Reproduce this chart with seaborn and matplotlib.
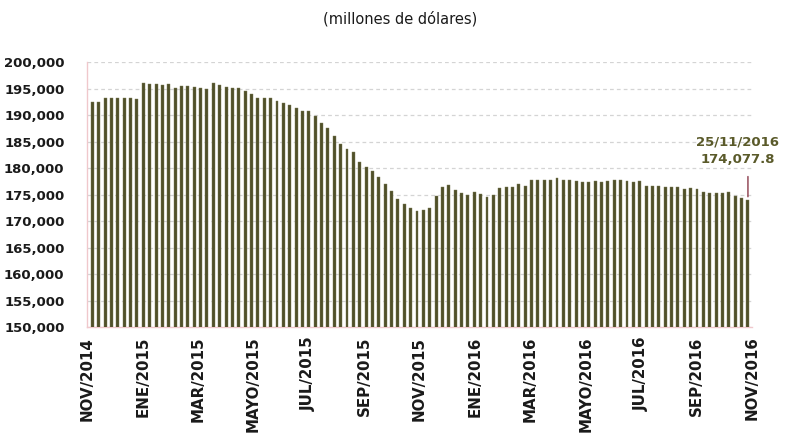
import numpy as np
import pandas as pd
import matplotlib
matplotlib.use("Agg")
import matplotlib.pyplot as plt
import seaborn as sns

# ---- data (weekly reserves, millions of USD) ----
valores = [
    192450, 192450, 193330, 193200, 193200, 193330, 193330, 193000,
    196040, 195900, 195900, 195800, 195900, 195100, 195600, 195600,
    195400, 195200, 194900, 196000, 195800, 195400, 195100, 195100,
    194500, 194000, 193300, 193300, 193300, 192600, 192300, 191900,
    191400, 190800, 190800, 189900, 188500, 187500, 186000, 184600,
    183600, 183000, 181100, 180300, 179400, 178300, 177000, 175600,
    174200, 173300, 172500, 172000, 172100, 172500, 174800, 176500,
    176900, 175900, 175300, 174900, 175500, 175200, 174600, 174900,
    176200, 176400, 176400, 177000, 176700, 177700, 177800, 177800,
    177800, 178100, 177800, 177800, 177500, 177300, 177400, 177500,
    177400, 177500, 177700, 177700, 177500, 177300, 177500, 176700,
    176700, 176700, 176500, 176500, 176500, 176000, 176200, 176000,
    175500, 175300, 175300, 175300, 175500, 174800, 174300, 174077.8,
]
fechas = pd.date_range(end="2016-11-25", periods=len(valores), freq="7D")
etiquetas_x = ["NOV/2014", "ENE/2015", "MAR/2015", "MAYO/2015", "JUL/2015",
               "SEP/2015", "NOV/2015", "ENE/2016", "MAR/2016", "MAYO/2016",
               "JUL/2016", "SEP/2016", "NOV/2016"]
ticks_y = [150000, 155000, 160000, 165000, 170000, 175000, 180000,
           185000, 190000, 195000, 200000]
titulo = "(millones de dólares)"
anotacion = "25/11/2016\n174,077.8"

df = pd.DataFrame({"semana": np.arange(len(valores)), "valor": valores,
                   "fecha": fechas})

sns.set_theme(style="white")
plt.rcParams["font.family"] = ["DejaVu Sans"]

fig = plt.figure(figsize=(7.93, 4.40), dpi=100)
ax = fig.add_axes([0.1093, 0.2568, 0.8387, 0.6016])

bar_color = "#505029"
sns.barplot(data=df, x="semana", y="valor", color=bar_color, width=0.46,
            saturation=1, edgecolor="#7a7a55", linewidth=0.3, ax=ax, zorder=3)

ax.set_ylim(150000, 200000)
ax.set_xlim(-0.9, len(valores) - 0.5)
ax.set_yticks(ticks_y)
ax.set_yticklabels([f"{v:,.0f}" for v in ticks_y], fontsize=9.5,
                   fontweight="bold", color="#1a1a1a")

pos = np.linspace(-0.8, 103.6, len(etiquetas_x))
ax.set_xticks(pos)
ax.set_xticklabels(etiquetas_x, rotation=90, fontsize=10.8,
                   fontweight="bold", color="#1a1a1a", va="top", ha="center")
ax.tick_params(axis="both", length=0)
ax.tick_params(axis="y", pad=16)
ax.tick_params(axis="x", pad=7)
ax.set_xlabel("")
ax.set_ylabel("")

ax.yaxis.grid(True, linestyle=(0, (3, 2.5)), color="#d4d4d4", linewidth=0.9,
              zorder=0)
ax.set_axisbelow(True)
for s in ["top", "right"]:
    ax.spines[s].set_visible(False)
for s in ["left", "bottom"]:
    ax.spines[s].set_color("#f0c8cc")
    ax.spines[s].set_linewidth(1.0)

fig.text(0.505, 0.958, titulo, ha="center", va="center", fontsize=10.5,
         color="#1a1a1a")

ult = len(valores) - 1
ax.annotate("", xy=(ult, valores[-1]), xytext=(ult, 178950),
            arrowprops=dict(arrowstyle="-", color="#8b3a4a", lw=1.0),
            zorder=5)
ax.text(101.4, 183300, anotacion, ha="center", va="center", fontsize=9.5,
        fontweight="bold", color="#5a5a2a", linespacing=1.45, zorder=6,
        clip_on=False)

fig.savefig("out.png", dpi=100)
